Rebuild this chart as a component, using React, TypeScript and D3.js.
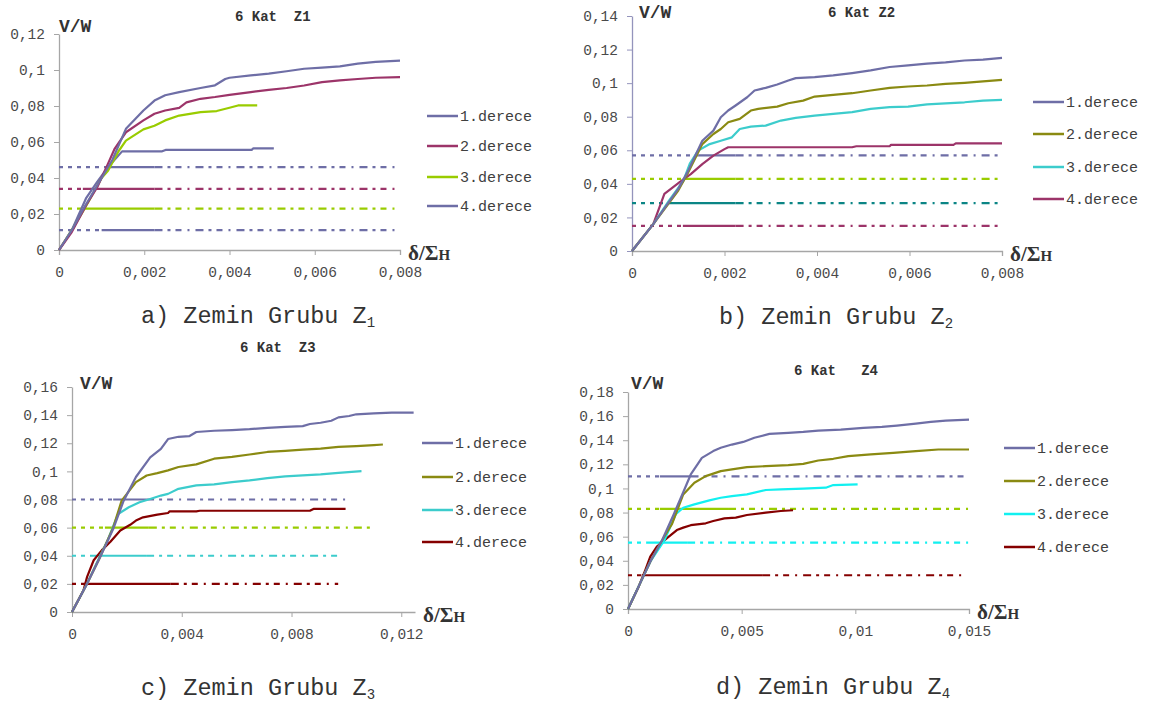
import { useEffect, useRef } from 'react';
import * as d3 from 'd3';

type Pt = [number, number];

// ---- Z1 (a) ----
const a1: Pt[] = [[0,0],[0.0003,0.011],[0.0006,0.024],[0.001,0.04],[0.00125,0.05],[0.00157,0.0673],[0.0018,0.073],[0.00198,0.0775],[0.00224,0.083],[0.00249,0.086],[0.00282,0.0877],[0.00332,0.09],[0.00366,0.0915],[0.0039,0.095],[0.004,0.0957],[0.0045,0.097],[0.00492,0.098],[0.00534,0.0993],[0.00575,0.1007],[0.00617,0.1013],[0.00659,0.102],[0.00701,0.1035],[0.00743,0.1045],[0.008,0.1052]];
const a2: Pt[] = [[0,0],[0.0003,0.01],[0.00064,0.025],[0.0009,0.035],[0.00115,0.048],[0.0013,0.056],[0.00157,0.0654],[0.00198,0.072],[0.00224,0.0757],[0.00249,0.0775],[0.00282,0.079],[0.00299,0.082],[0.00332,0.084],[0.00366,0.085],[0.004,0.0862],[0.0045,0.0877],[0.00492,0.089],[0.00534,0.09],[0.00575,0.0914],[0.00617,0.0933],[0.00659,0.0942],[0.00701,0.095],[0.00743,0.0957],[0.008,0.096]];
const a3: Pt[] = [[0,0],[0.0003,0.011],[0.0006,0.023],[0.001,0.04],[0.00115,0.044],[0.0014,0.055],[0.00157,0.0608],[0.00198,0.067],[0.00224,0.069],[0.00249,0.072],[0.00282,0.0747],[0.00332,0.0766],[0.0037,0.0772],[0.004,0.079],[0.0042,0.0803],[0.00465,0.0803]];
const a4: Pt[] = [[0,0],[0.0003,0.011],[0.00064,0.029],[0.0009,0.038],[0.00115,0.046],[0.00148,0.0548],[0.00242,0.0548],[0.0025,0.0556],[0.00452,0.0556],[0.00456,0.0565],[0.00504,0.0565]];
const thrA = [0.046, 0.034, 0.023, 0.011];
const thrEndA = [0.008, 0.008, 0.008, 0.008];
const thrSolidA: Pt[] = [[0.00115,0.00224],[0.00056,0.00224],[0.00056,0.00224],[0.001,0.00224]];
const xTicksA = [0, 0.002, 0.004, 0.006, 0.008];
const yTicksA = [0, 0.02, 0.04, 0.06, 0.08, 0.1, 0.12];

// ---- Z2 (b) ----
const b1: Pt[] = [[0,0],[0.00046,0.016],[0.001,0.037],[0.0012,0.047],[0.00152,0.0657],[0.00176,0.0717],[0.00192,0.0797],[0.00208,0.0837],[0.00224,0.0867],[0.00249,0.0916],[0.00265,0.0956],[0.00289,0.0972],[0.00314,0.0992],[0.00338,0.1016],[0.00354,0.103],[0.00395,0.1036],[0.00435,0.1046],[0.00476,0.106],[0.00516,0.1076],[0.00557,0.1096],[0.00597,0.1106],[0.00638,0.1116],[0.00678,0.1124],[0.00719,0.1135],[0.00759,0.114],[0.008,0.1151]];
const b2: Pt[] = [[0,0],[0.00046,0.016],[0.001,0.036],[0.0012,0.046],[0.00152,0.0637],[0.00176,0.0697],[0.00192,0.0727],[0.00208,0.0767],[0.00233,0.0787],[0.00257,0.0837],[0.00273,0.0847],[0.00314,0.086],[0.00338,0.088],[0.0037,0.0896],[0.00395,0.092],[0.00435,0.093],[0.00476,0.094],[0.00516,0.0956],[0.00557,0.0972],[0.00597,0.098],[0.00638,0.0986],[0.00678,0.0996],[0.00719,0.1002],[0.00759,0.101],[0.008,0.102]];
const b3: Pt[] = [[0,0],[0.00046,0.016],[0.0008,0.03],[0.00111,0.0418],[0.00125,0.052],[0.00143,0.0598],[0.00168,0.0637],[0.00192,0.0657],[0.00216,0.0677],[0.00233,0.0727],[0.00257,0.0741],[0.00289,0.0747],[0.00322,0.0777],[0.00354,0.0793],[0.00395,0.0807],[0.00435,0.0817],[0.00476,0.0827],[0.00516,0.0847],[0.00557,0.0857],[0.00597,0.086],[0.00638,0.0873],[0.00678,0.088],[0.00719,0.0886],[0.00759,0.0896],[0.008,0.09]];
const b4: Pt[] = [[0,0],[0.00046,0.016],[0.0007,0.034],[0.00103,0.041],[0.00127,0.0458],[0.00152,0.0518],[0.00176,0.0568],[0.002,0.0607],[0.00208,0.0618],[0.00476,0.0618],[0.00485,0.0624],[0.00557,0.0624],[0.0056,0.0632],[0.00695,0.0632],[0.007,0.0641],[0.008,0.0641]];
const thrB = [0.057, 0.043, 0.0285, 0.015];
const thrEndB = [0.008, 0.008, 0.008, 0.008];
const thrSolidB: Pt[] = [[0.00143,0.00224],[0.0011,0.00224],[0.0008,0.00224],[0.0011,0.00224]];
const xTicksB = [0, 0.002, 0.004, 0.006, 0.008];
const yTicksB = [0, 0.02, 0.04, 0.06, 0.08, 0.1, 0.12, 0.14];

// ---- Z3 (c) ----
const c1: Pt[] = [[0,0],[0.00052,0.019],[0.001,0.038],[0.0015,0.059],[0.00188,0.079],[0.00233,0.096],[0.00285,0.11],[0.00324,0.116],[0.0035,0.123],[0.00388,0.1246],[0.00427,0.125],[0.00453,0.128],[0.00518,0.1289],[0.00583,0.1294],[0.00647,0.13],[0.00712,0.131],[0.00777,0.1317],[0.00841,0.1322],[0.00867,0.1337],[0.00906,0.1346],[0.00945,0.136],[0.00971,0.1384],[0.0101,0.1394],[0.01036,0.1406],[0.011,0.1413],[0.01165,0.1418],[0.01245,0.1418]];
const c2: Pt[] = [[0,0],[0.00052,0.019],[0.001,0.038],[0.0015,0.06],[0.00181,0.0792],[0.00233,0.0924],[0.00272,0.0971],[0.00311,0.0988],[0.0035,0.1007],[0.00388,0.1031],[0.00453,0.105],[0.00518,0.109],[0.00583,0.1103],[0.00647,0.112],[0.00712,0.1138],[0.00777,0.1146],[0.00841,0.1155],[0.00906,0.1162],[0.00971,0.1174],[0.01036,0.1179],[0.011,0.1186],[0.01133,0.1191]];
const c3: Pt[] = [[0,0],[0.00052,0.019],[0.001,0.039],[0.00129,0.0506],[0.00168,0.0697],[0.00207,0.0745],[0.00246,0.078],[0.00285,0.0804],[0.00324,0.0828],[0.0035,0.084],[0.00388,0.0876],[0.00453,0.09],[0.00518,0.0907],[0.00583,0.0924],[0.00647,0.0936],[0.00712,0.0952],[0.00777,0.0964],[0.00841,0.0971],[0.00906,0.0979],[0.00971,0.099],[0.01055,0.1002]];
const c4: Pt[] = [[0,0],[0.00042,0.0155],[0.00055,0.025],[0.00079,0.0368],[0.00109,0.044],[0.0014,0.05],[0.00176,0.058],[0.00212,0.062],[0.00233,0.065],[0.00259,0.0673],[0.00311,0.0692],[0.0035,0.0704],[0.00356,0.0716],[0.00453,0.0716],[0.00466,0.072],[0.00867,0.072],[0.0088,0.0733],[0.00997,0.0733]];
const thrC = [0.08, 0.06, 0.04, 0.02];
const thrEndC = [0.01003, 0.01094, 0.00977, 0.0097];
const thrSolidC: Pt[] = [[0.0015,0.0027],[0.0012,0.0028],[0.0008,0.0027],[0.0005,0.0036]];
const xTicksC = [0, 0.004, 0.008, 0.012];
const yTicksC = [0, 0.02, 0.04, 0.06, 0.08, 0.1, 0.12, 0.14, 0.16];

// ---- Z4 (d) ----
const d1: Pt[] = [[0,0],[0.0005,0.02],[0.001,0.04],[0.0015,0.057],[0.002,0.078],[0.0025,0.1],[0.00276,0.1116],[0.00325,0.1254],[0.00375,0.131],[0.00408,0.1337],[0.00457,0.1364],[0.00507,0.1386],[0.00556,0.142],[0.00622,0.1453],[0.00705,0.1461],[0.00771,0.1469],[0.00837,0.148],[0.00936,0.1488],[0.01035,0.1502],[0.01117,0.151],[0.01183,0.1521],[0.01266,0.1538],[0.01332,0.1552],[0.01398,0.1563],[0.015,0.1571]];
const d2: Pt[] = [[0,0],[0.0005,0.02],[0.001,0.04],[0.0015,0.057],[0.00193,0.0703],[0.00243,0.095],[0.00292,0.1047],[0.00342,0.1102],[0.00408,0.1144],[0.00457,0.1158],[0.00523,0.1177],[0.00606,0.1185],[0.00705,0.1193],[0.00771,0.1204],[0.00837,0.1232],[0.00903,0.1246],[0.00969,0.1268],[0.01068,0.1282],[0.01167,0.1295],[0.01266,0.1309],[0.01365,0.1323],[0.015,0.1323]];
const d3s: Pt[] = [[0,0],[0.0005,0.02],[0.001,0.04],[0.0016,0.057],[0.0021,0.0786],[0.00243,0.084],[0.00292,0.0868],[0.00358,0.0901],[0.00408,0.0923],[0.00457,0.0937],[0.00523,0.0951],[0.00606,0.0987],[0.00672,0.0992],[0.00771,0.0998],[0.0087,0.1006],[0.00903,0.1028],[0.0101,0.1034]];
const d4: Pt[] = [[0,0],[0.00047,0.0185],[0.00076,0.0323],[0.00098,0.0434],[0.00127,0.0517],[0.0017,0.0586],[0.00215,0.0655],[0.00243,0.0675],[0.00276,0.0695],[0.00342,0.0711],[0.00375,0.073],[0.00424,0.0752],[0.00474,0.0758],[0.00523,0.078],[0.00606,0.08],[0.00672,0.0813],[0.00726,0.0819]];
const thrD = [0.11, 0.083, 0.055, 0.028];
const thrEndD = [0.015, 0.015, 0.015, 0.0147];
const thrSolidD: Pt[] = [[0.0014,0.00275],[0.0014,0.0044],[0.0008,0.0026],[0.0006,0.0059]];
const xTicksD = [0, 0.005, 0.01, 0.015];
const yTicksD = [0, 0.02, 0.04, 0.06, 0.08, 0.1, 0.12, 0.14, 0.16, 0.18];

const legendLabels = ['1.derece', '2.derece', '3.derece', '4.derece'];

const PURPLE = '#6e6ea6';
const MAROON = '#9c3469';
const LIME = '#99cc00';
const OLIVE = '#8a8a12';
const CYAN = '#3ccccc';
const AQUA = '#12f0f0';
const DRED = '#850000';
const TEAL = '#0b8585';

const MONO = '"Liberation Mono", "Courier New", monospace';
const SERIF = '"Liberation Serif", "DejaVu Serif", serif';

const panels = [
  {
    left: 59, right: 400, top: 34, bottom: 250, xMax: 0.008, yMax: 0.12,
    xTicks: xTicksA, yTicks: yTicksA, series: [a1, a2, a3, a4],
    colors: [PURPLE, MAROON, LIME, PURPLE],
    thr: thrA, thrEnd: thrEndA, thrSolid: thrSolidA, thrColors: [PURPLE, MAROON, LIME, PURPLE],
    title: '6 Kat  Z1', titleX: 235, titleY: 21, vwX: 59, vwY: 32,
    legendX: 427, legendY: [116, 146, 177, 206],
    caption: 'a) Zemin Grubu Z', sub: '1', capX: 141, capY: 323, yAxisColor: '#a6a6a6', outerX: 5,
  },
  {
    left: 632, right: 1002, top: 16, bottom: 251, xMax: 0.008, yMax: 0.14,
    xTicks: xTicksB, yTicks: yTicksB, series: [b1, b2, b3, b4],
    colors: [PURPLE, OLIVE, CYAN, MAROON],
    thr: thrB, thrEnd: thrEndB, thrSolid: thrSolidB, thrColors: [PURPLE, LIME, TEAL, MAROON],
    title: '6 Kat Z2', titleX: 828, titleY: 17, vwX: 639, vwY: 18,
    legendX: 1033, legendY: [102, 134, 167, 199],
    caption: 'b) Zemin Grubu Z', sub: '2', capX: 719, capY: 324, yAxisColor: '#9494bc', outerX: 5,
  },
  {
    left: 72, right: 415, top: 387, bottom: 612, xMax: 0.0125, yMax: 0.16,
    xTicks: xTicksC, yTicks: yTicksC, series: [c1, c2, c3, c4],
    colors: [PURPLE, OLIVE, CYAN, DRED],
    thr: thrC, thrEnd: thrEndC, thrSolid: thrSolidC, thrColors: [PURPLE, LIME, CYAN, DRED],
    title: '6 Kat  Z3', titleX: 240, titleY: 352, vwX: 80, vwY: 389,
    legendX: 422, legendY: [443, 477, 510, 542],
    caption: 'c) Zemin Grubu Z', sub: '3', capX: 141, capY: 695, yAxisColor: '#a6a6a6', outerX: 0,
  },
  {
    left: 628, right: 969, top: 392, bottom: 609, xMax: 0.015, yMax: 0.18,
    xTicks: xTicksD, yTicks: yTicksD, series: [d1, d2, d3s, d4],
    colors: [PURPLE, OLIVE, AQUA, DRED],
    thr: thrD, thrEnd: thrEndD, thrSolid: thrSolidD, thrColors: [PURPLE, LIME, AQUA, DRED],
    title: '6 Kat   Z4', titleX: 794, titleY: 375, vwX: 631, vwY: 389,
    legendX: 1004, legendY: [448, 481, 514, 547],
    caption: 'd) Zemin Grubu Z', sub: '4', capX: 716, capY: 694, yAxisColor: '#a6a6a6', outerX: 5,
  },
];

const fmt = (v: number) => (v === 0 ? '0' : String(+v.toFixed(5)).replace('.', ','));

export default function App() {
  const ref = useRef<SVGSVGElement>(null);

  useEffect(() => {
    const svg = d3.select(ref.current);
    svg.selectAll('*').remove();
    svg.append('rect').attr('width', 1159).attr('height', 702).attr('fill', '#fff');

    panels.forEach((p) => {
      const x = d3.scaleLinear().domain([0, p.xMax]).range([p.left, p.right]);
      const y = d3.scaleLinear().domain([0, p.yMax]).range([p.bottom, p.top]);
      const g = svg.append('g');

      // axes
      const yAxis = g.append('g')
        .attr('transform', `translate(${p.left},0)`)
        .call(d3.axisLeft(y).tickValues(p.yTicks).tickFormat(fmt as any).tickSize(5).tickSizeOuter(0).tickPadding(9));
      yAxis.select('.domain').attr('stroke', p.yAxisColor).attr('stroke-width', 1.3);
      yAxis.selectAll('line').attr('stroke', p.yAxisColor);
      const xAxis = g.append('g')
        .attr('transform', `translate(0,${p.bottom})`)
        .call(d3.axisBottom(x).tickValues(p.xTicks).tickFormat(fmt as any).tickSize(5).tickSizeOuter(p.outerX).tickPadding(12));
      xAxis.select('.domain').attr('stroke', '#a6a6a6').attr('stroke-width', 1.3);
      xAxis.selectAll('line').attr('stroke', '#a6a6a6');
      g.selectAll('.tick text')
        .attr('font-family', MONO).attr('font-size', 14.5).attr('fill', '#4a4a4a');

      // threshold lines
      p.thr.forEach((v, i) => {
        const [s0, s1] = p.thrSolid[i];
        const yy = y(v);
        const c = p.thrColors[i];
        g.append('line').attr('x1', x(0)).attr('x2', x(s0)).attr('y1', yy).attr('y2', yy)
          .attr('stroke', c).attr('stroke-width', 2.2).attr('stroke-dasharray', '4,5');
        g.append('line').attr('x1', x(s0)).attr('x2', x(s1)).attr('y1', yy).attr('y2', yy)
          .attr('stroke', c).attr('stroke-width', 2.2);
        g.append('line').attr('x1', x(s1)).attr('x2', x(p.thrEnd[i])).attr('y1', yy).attr('y2', yy)
          .attr('stroke', c).attr('stroke-width', 2.2).attr('stroke-dasharray', '8,5,3,5,6,6,2,6');
      });

      // curves
      const line = d3.line<Pt>().x((d) => x(d[0])).y((d) => y(d[1]));
      [...p.series].map((s, i) => ({ s, i })).reverse().forEach(({ s, i }) => {
        g.append('path').datum(s).attr('d', line)
          .attr('fill', 'none').attr('stroke', p.colors[i]).attr('stroke-width', 2.2)
          .attr('stroke-linejoin', 'round');
      });

      // legend
      legendLabels.forEach((lab, i) => {
        const ly = p.legendY[i];
        g.append('line').attr('x1', p.legendX).attr('x2', p.legendX + 31).attr('y1', ly).attr('y2', ly)
          .attr('stroke', p.colors[i]).attr('stroke-width', 2.5);
        g.append('text').attr('x', p.legendX + 33).attr('y', ly + 5)
          .attr('font-family', MONO).attr('font-size', 15).attr('fill', '#404040').text(lab);
      });

      // title
      g.append('text').attr('x', p.titleX).attr('y', p.titleY).attr('xml:space', 'preserve')
        .style('white-space', 'pre')
        .attr('font-family', MONO).attr('font-size', 14).attr('font-weight', 'bold').attr('fill', '#333')
        .text(p.title);

      // axis titles
      g.append('text').attr('x', p.vwX).attr('y', p.vwY)
        .attr('font-family', MONO).attr('font-size', 18).attr('font-weight', 'bold').attr('fill', '#333')
        .text('V/W');
      const xl = g.append('text').attr('x', p.right + 8).attr('y', p.bottom + 10)
        .attr('font-family', SERIF).attr('font-weight', 'bold').attr('fill', '#333');
      xl.append('tspan').attr('font-size', 21).text('δ/Σ');
      xl.append('tspan').attr('font-size', 15).text('H');

      // caption
      const cap = g.append('text').attr('x', p.capX).attr('y', p.capY).attr('xml:space', 'preserve')
        .style('white-space', 'pre')
        .attr('font-family', MONO).attr('font-size', 23.5).attr('fill', '#333');
      cap.append('tspan').text(p.caption);
      cap.append('tspan').attr('font-size', 14).attr('dy', 4).text(p.sub);
    });
  }, []);

  return (
    <svg ref={ref} width={1159} height={702} style={{ position: 'absolute', left: 0, top: 0 }} />
  );
}
